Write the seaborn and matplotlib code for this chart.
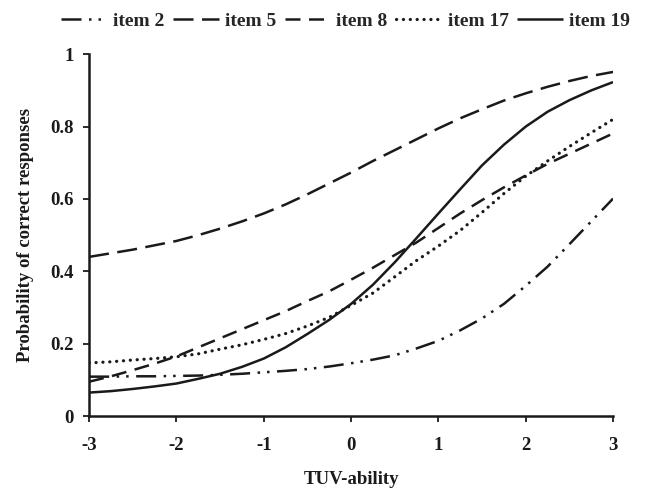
import matplotlib
matplotlib.use("Agg")
import matplotlib.pyplot as plt
import seaborn as sns
import pandas as pd

theta = [-3, -2.75, -2.5, -2.25, -2, -1.75, -1.5, -1.25, -1, -0.75, -0.5, -0.25, 0,
         0.25, 0.5, 0.75, 1, 1.25, 1.5, 1.75, 2, 2.25, 2.5, 2.75, 3]
item2 = [0.109, 0.109, 0.110, 0.110, 0.111, 0.112, 0.114, 0.117, 0.121, 0.125, 0.130, 0.137, 0.146,
         0.156, 0.168, 0.187, 0.208, 0.237, 0.270, 0.310, 0.360, 0.413, 0.475, 0.538, 0.601]
item5 = [0.440, 0.450, 0.460, 0.472, 0.484, 0.500, 0.518, 0.538, 0.560, 0.585, 0.613, 0.643, 0.673,
         0.705, 0.735, 0.765, 0.795, 0.823, 0.848, 0.872, 0.892, 0.910, 0.926, 0.940, 0.951]
item8 = [0.095, 0.110, 0.127, 0.145, 0.165, 0.190, 0.215, 0.240, 0.265, 0.290, 0.318, 0.345, 0.377,
         0.410, 0.445, 0.480, 0.520, 0.560, 0.597, 0.632, 0.665, 0.697, 0.725, 0.753, 0.781]
item17 = [0.147, 0.150, 0.155, 0.159, 0.164, 0.172, 0.185, 0.197, 0.212, 0.228, 0.249, 0.273, 0.306,
          0.340, 0.385, 0.430, 0.470, 0.513, 0.563, 0.615, 0.663, 0.705, 0.745, 0.783, 0.820]
item19 = [0.065, 0.069, 0.075, 0.082, 0.090, 0.103, 0.117, 0.136, 0.159, 0.190, 0.227, 0.266, 0.310,
          0.363, 0.425, 0.492, 0.560, 0.627, 0.693, 0.750, 0.800, 0.841, 0.873, 0.900, 0.923]
labels = ["item 2", "item 5", "item 8", "item 17", "item 19"]
x_ticks = [-3, -2, -1, 0, 1, 2, 3]
y_ticks = [0, 0.2, 0.4, 0.6, 0.8, 1]
y_tick_labels = ["0", "0.2", "0.4", "0.6", "0.8", "1"]

sns.set_theme(style="white")
plt.rcParams["font.family"] = ["Liberation Serif", "DejaVu Serif"]
plt.rcParams["font.weight"] = "bold"

fig = plt.figure(figsize=(6.46, 4.93), dpi=100)
ax = fig.add_axes([0.138, 0.156, 0.811, 0.734])

INK = "#1a1a1a"
series = [item2, item5, item8, item17, item19]
styles = [
    dict(lw=1.8, linestyle=(0, (8.0, 3.0, 1.0, 2.8, 1.0, 3.0)), dash_capstyle="butt"),
    dict(lw=1.8, linestyle=(0, (8.0, 3.4)), dash_capstyle="butt"),
    dict(lw=1.8, linestyle=(0, (6.0, 3.4)), dash_capstyle="butt"),
    dict(lw=2.3, linestyle=(0, (0.05, 2.1)), dash_capstyle="round"),
    dict(lw=1.8, linestyle="-", solid_capstyle="butt"),
]
handles = []
for vals, lab, st in zip(series, labels, styles):
    df = pd.DataFrame({"theta": theta, "p": vals})
    sns.lineplot(data=df, x="theta", y="p", ax=ax, color=INK, **st)
    handles.append(ax.lines[-1])

ax.set_xlim(-3, 3)
ax.set_ylim(0, 1)
ax.set_xticks(x_ticks)
ax.set_xticklabels([str(t) for t in x_ticks])
ax.set_yticks(y_ticks)
ax.set_yticklabels(y_tick_labels)
for s in ["top", "right"]:
    ax.spines[s].set_visible(False)
for s in ["left", "bottom"]:
    ax.spines[s].set_color(INK)
    ax.spines[s].set_linewidth(1.8)
ax.tick_params(axis="both", direction="out", length=4, width=1.3, color=INK,
               labelsize=13.5, labelcolor=INK, bottom=True, left=True)
ax.tick_params(axis="x", pad=11)
ax.tick_params(axis="y", pad=7)
for t in ax.get_xticklabels() + ax.get_yticklabels():
    t.set_fontweight("bold")
ax.set_xlabel("TUV-ability", fontsize=13.5, fontweight="bold", labelpad=12, color=INK)
ax.set_ylabel("Probability of correct responses", fontsize=13.5, fontweight="bold", labelpad=12, color=INK)

fig.legend(handles, labels, loc="upper center", bbox_to_anchor=(0.535, 1.01), ncol=5, frameon=False,
           prop={"size": 14, "weight": "bold"}, handlelength=2.35, columnspacing=0.45,
           handletextpad=0.3)

fig.savefig("out.png", dpi=100)
